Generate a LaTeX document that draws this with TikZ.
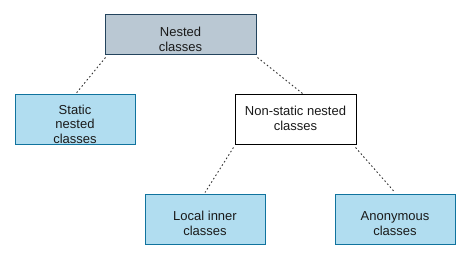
\documentclass[tikz,border=0pt]{standalone}
\usepackage{fontspec}
\setmainfont{Liberation Sans}
\usetikzlibrary{positioning}
\definecolor{hdrgray}{HTML}{BAC8D3}
\definecolor{drkgray}{HTML}{23445D}
\definecolor{hdrblue}{HTML}{B1DDF0}
\definecolor{drkblue}{HTML}{10739E}
\definecolor{mydark}{HTML}{1A1A1A}
\definecolor{linegray}{HTML}{333333}
% text lowered inside a box, the box keeps its size
\newcommand{\boxtext}[2][0pt]{\raisebox{-#1}[\height][\depth]{%
  \begin{tabular}{@{}c@{}}#2\end{tabular}}}
\tikzset{
  classbox/.style={rectangle, draw=drkblue, fill=hdrblue, line width=1pt,
    minimum width=120pt, minimum height=50pt, inner sep=0pt,
    text=mydark, font=\fontsize{13}{14.5}\selectfont},
  rootbox/.style={classbox, draw=drkgray, fill=hdrgray,
    minimum width=151pt, minimum height=40pt},
  plainbox/.style={classbox, draw=black, fill=white, minimum width=121pt},
  link/.style={draw=linegray, line width=0.9pt, dash pattern=on 1.6pt off 2.4pt}
}
\begin{document}
\begin{tikzpicture}[x=1pt, y=-1pt]
  \useasboundingbox (0,0) rectangle (471,261);
  \node [rootbox] (nested) at (180.5,35) {\boxtext[6pt]{Nested\\classes}};
  \node [classbox] (static) at (75,120) {\boxtext[6pt]{Static\\nested\\classes}};
  \node [plainbox] (nonstatic) at (295.5,120) {\boxtext{Non-static nested\\classes}};
  \node [classbox] (local) at (205,220) {\boxtext[5pt]{Local inner\\classes}};
  \node [classbox] (anon) at (395,220) {\boxtext[5pt]{Anonymous\\classes}};

  \draw [link] ([xshift=1pt,yshift=-2pt]nested.south west) -- ([xshift=1pt,yshift=1pt]static.north);
  \draw [link] ([xshift=1pt,yshift=-2pt]nested.south east) -- ([xshift=7pt,yshift=1pt]nonstatic.north);
  \draw [link] ([xshift=-1pt,yshift=-2pt]nonstatic.south west) -- ([yshift=2pt]local.north);
  \draw [link] ([xshift=-1pt,yshift=-2pt]nonstatic.south east) -- ([yshift=2pt]anon.north);
\end{tikzpicture}
\end{document}
